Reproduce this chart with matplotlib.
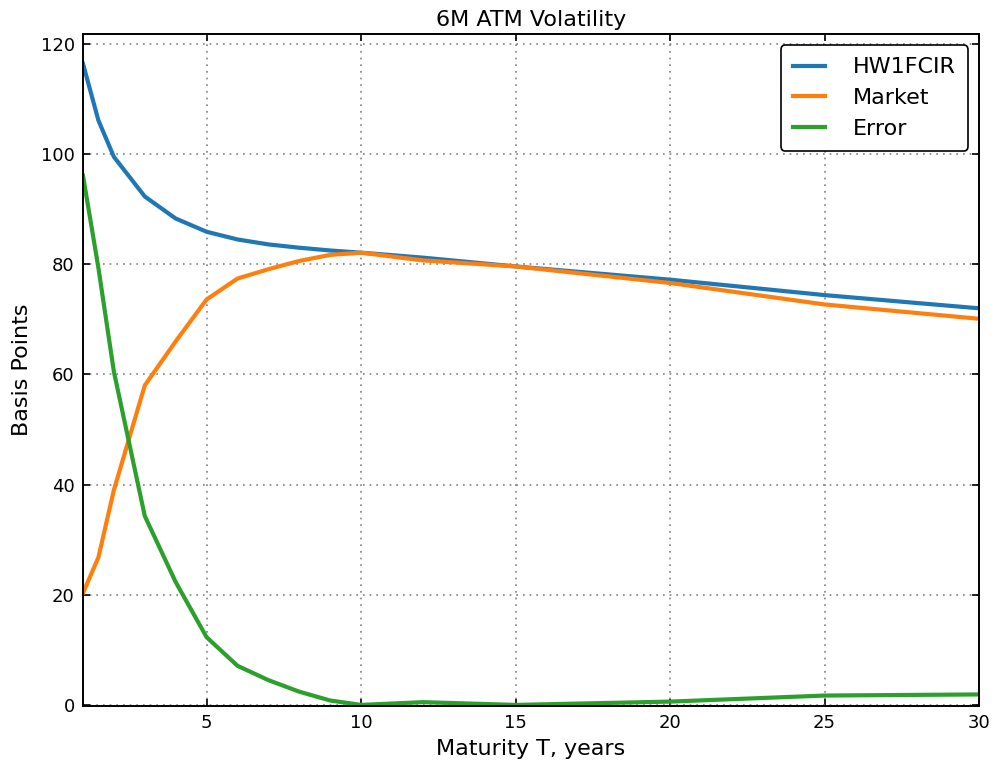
import numpy as np
import matplotlib.pyplot as plt

# maturities (years) and 6M ATM vols in basis points
maturity = [1, 1.5, 2, 3, 4, 5, 6, 7, 8, 9, 10, 12, 15, 20, 25, 30]
model_vol = [116.4, 106.1, 99.5, 92.3, 88.3, 85.9, 84.5, 83.6, 83.0, 82.5, 82.1,
             81.2, 79.6, 77.2, 74.4, 72.0]
market_vol = [20.3, 26.8, 39.0, 58.0, 66.0, 73.6, 77.4, 79.1, 80.6, 81.7, 82.1,
              80.7, 79.6, 76.6, 72.7, 70.1]
error_vol = [96.1, 79.3, 60.5, 34.3, 22.3, 12.3, 7.1, 4.5, 2.4, 0.8, 0.0,
             0.5, 0.0, 0.6, 1.7, 1.9]


def main() -> None:
  fig = plt.figure(figsize=(9.95, 7.64), dpi=100)
  ax = fig.add_axes([0.0834, 0.0759, 0.9006, 0.8796])

  ax.plot(maturity, model_vol, color='C0', lw=3, label='HW1FCIR')
  ax.plot(maturity, market_vol, color='C1', lw=3, label='Market')
  ax.plot(maturity, error_vol, color='C2', lw=3, label='Error')

  #* axes
  ax.set_xlim(1, 30)
  ax.set_ylim(-0.2, 121.8)
  ax.set_xticks([5, 10, 15, 20, 25, 30])
  ax.set_yticks([0, 20, 40, 60, 80, 100, 120])
  ax.tick_params(direction='in', top=True, right=True, labelsize=13,
                 length=5, width=1.2, pad=6)
  for sp in ax.spines.values():
    sp.set_linewidth(1.4)
  ax.grid(True, color='0.5', linestyle=(0, (1, 3)), linewidth=1.2)

  ax.set_title('6M ATM Volatility', fontsize=16, pad=6)
  ax.set_xlabel('Maturity T, years', fontsize=16, labelpad=5)
  ax.set_ylabel('Basis Points', fontsize=16, labelpad=6)

  leg = ax.legend(loc='upper right', fontsize=16, fancybox=True, framealpha=1,
                  handlelength=1.45, handletextpad=1.25, labelspacing=0.48,
                  borderpad=0.55)
  leg.get_frame().set_edgecolor('black')
  leg.get_frame().set_linewidth(1.2)

  fig.savefig('out.png', dpi=100)


if __name__ == "__main__":
  main()
